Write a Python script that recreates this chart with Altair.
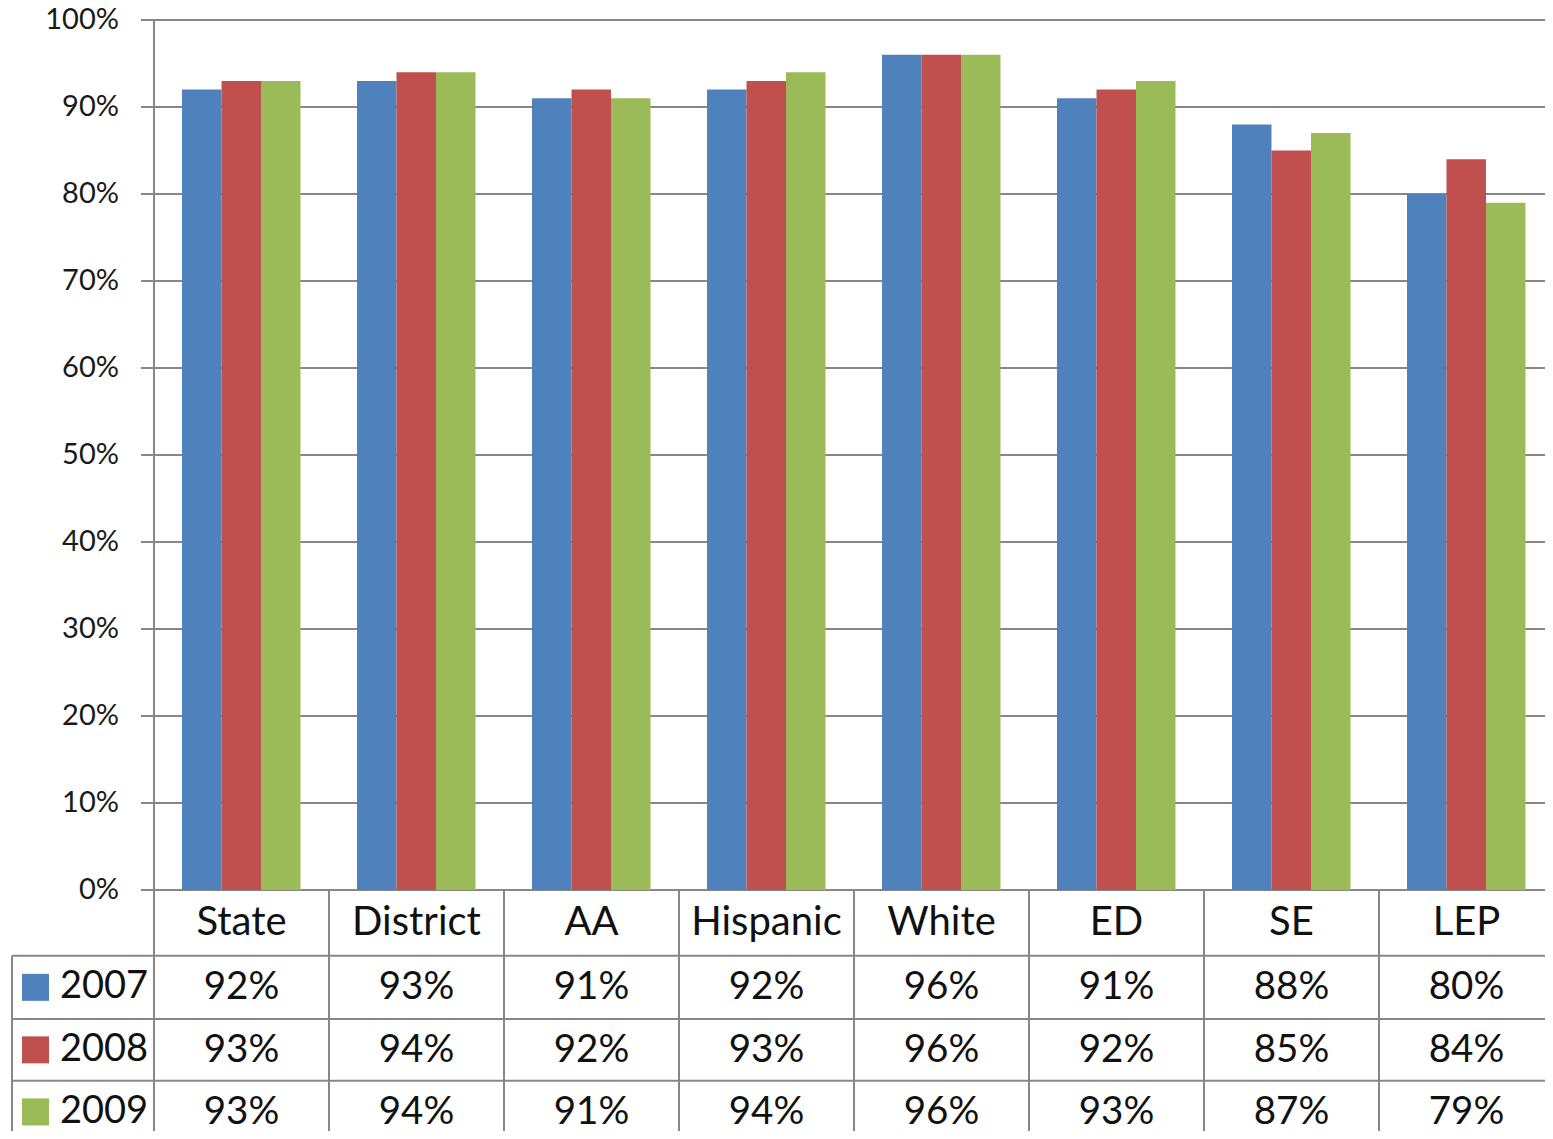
import altair as alt
import pandas as pd

# ---- data ----
categories = ["State", "District", "AA", "Hispanic", "White", "ED", "SE", "LEP"]
years = ["2007", "2008", "2009"]
v2007 = [92, 93, 91, 92, 96, 91, 88, 80]
v2008 = [93, 94, 92, 93, 96, 92, 85, 84]
v2009 = [93, 94, 91, 94, 96, 93, 87, 79]
series = [v2007, v2008, v2009]
y_ticks = [0, 10, 20, 30, 40, 50, 60, 70, 80, 90, 100]
colors = ["#4F81BD", "#C0504D", "#9BBB59"]

# ---- layout (pixels) ----
W, H = 1537, 1123
PXC = 175.0          # px per category column
PXY = 8.7            # px per percent
AX = 146             # chart-px x of the value axis
AY = 882             # chart-px y of 0%
GAP = 28.0           # px before first bar in a column
BARW = 39.5          # px per bar
ROW_LINES_PX = [65.7, 129.0, 190.7]   # below 0% baseline, px
ROW_H_PX = 62.5
LEFT_BORDER_PX = -142.0               # relative to axis
GRID = "#878787"
FONT = "Lato"

def px_x(p):
    return p / PXC

def px_y(p):
    return -p / PXY

xs = alt.Scale(domain=[-AX / PXC, (W - AX) / PXC], nice=False, zero=False)
ys = alt.Scale(domain=[-(H - AY) / PXY, AY / PXY], nice=False, zero=False)

# bars
bar_rows = []
for j, (yr, vals) in enumerate(zip(years, series)):
    for i, (c, v) in enumerate(zip(categories, vals)):
        x0 = i + px_x(GAP + BARW * j)
        bar_rows.append(dict(cat=c, year=yr, v=v, x=x0, x2=x0 + px_x(BARW), y=0))
bars_df = pd.DataFrame(bar_rows)

bars = alt.Chart(bars_df).mark_rect().encode(
    x=alt.X("x:Q", scale=xs, axis=None),
    x2="x2:Q",
    y=alt.Y("y:Q", scale=ys, axis=None),
    y2="v:Q",
    color=alt.Color("year:N", scale=alt.Scale(domain=years, range=colors), legend=None),
)

# lines: gridlines, ticks, axis, table
right = (W - AX) / PXC + 0.1
bottom = -(H - AY) / PXY - 1
lines = []
for t in y_ticks:
    lines.append(dict(x=px_x(-13), x2=right, y=t, y2=t))
lines.append(dict(x=0, x2=0, y=100, y2=bottom))
for i in range(1, 9):
    lines.append(dict(x=i, x2=i, y=0, y2=bottom))
for rl in ROW_LINES_PX:
    lines.append(dict(x=px_x(LEFT_BORDER_PX), x2=right, y=px_y(rl), y2=px_y(rl)))
lines.append(dict(x=px_x(LEFT_BORDER_PX), x2=px_x(LEFT_BORDER_PX),
                  y=px_y(ROW_LINES_PX[0]), y2=bottom))
lines_df = pd.DataFrame(lines)

rules = alt.Chart(lines_df).mark_rule(color=GRID, strokeWidth=2).encode(
    x=alt.X("x:Q", scale=xs, axis=None),
    x2="x2:Q",
    y=alt.Y("y:Q", scale=ys, axis=None),
    y2="y2:Q",
)

# y-axis labels
ylab_df = pd.DataFrame(dict(t=y_ticks, lab=[f"{t}%" for t in y_ticks], x=[px_x(-35)] * len(y_ticks)))
ylabels = alt.Chart(ylab_df).mark_text(
    align="right", baseline="middle", font=FONT, fontSize=29, color="#1a1a1a"
).encode(
    x=alt.X("x:Q", scale=xs, axis=None),
    y=alt.Y("t:Q", scale=ys, axis=None),
    text="lab:N",
)

# table header
hdr_y = px_y(ROW_LINES_PX[0] / 2)
hdr_df = pd.DataFrame(dict(cat=categories, x=[i + 0.5 for i in range(8)], y=[hdr_y] * 8))
header = alt.Chart(hdr_df).mark_text(
    align="center", baseline="middle", font=FONT, fontSize=40, color="#111111"
).encode(
    x=alt.X("x:Q", scale=xs, axis=None),
    y=alt.Y("y:Q", scale=ys, axis=None),
    text="cat:N",
)

# table values
row_tops = [ROW_LINES_PX[0], ROW_LINES_PX[1], ROW_LINES_PX[2]]
row_bots = [ROW_LINES_PX[1], ROW_LINES_PX[2], ROW_LINES_PX[2] + ROW_H_PX]
cell_rows = []
for j, (yr, vals) in enumerate(zip(years, series)):
    yc = px_y((row_tops[j] + row_bots[j]) / 2)
    for i, (c, v) in enumerate(zip(categories, vals)):
        cell_rows.append(dict(x=i + 0.5, y=yc, lab=f"{v}%"))
cells_df = pd.DataFrame(cell_rows)
cells = alt.Chart(cells_df).mark_text(
    align="center", baseline="middle", font=FONT, fontSize=38.5, color="#111111"
).encode(
    x=alt.X("x:Q", scale=xs, axis=None),
    y=alt.Y("y:Q", scale=ys, axis=None),
    text="lab:N",
)

# legend column
leg_rows = []
for j, yr in enumerate(years):
    yc = px_y((row_tops[j] + row_bots[j]) / 2)
    leg_rows.append(dict(year=yr, y=yc, xs=px_x(-118.5), xt=px_x(-94)))
leg_df = pd.DataFrame(leg_rows)
leg_sw = alt.Chart(leg_df).mark_square(size=27 * 27, opacity=1).encode(
    x=alt.X("xs:Q", scale=xs, axis=None),
    y=alt.Y("y:Q", scale=ys, axis=None),
    color=alt.Color("year:N", scale=alt.Scale(domain=years, range=colors), legend=None),
)
leg_tx = alt.Chart(leg_df).mark_text(
    align="left", baseline="middle", font=FONT, fontSize=38, color="#111111"
).encode(
    x=alt.X("xt:Q", scale=xs, axis=None),
    y=alt.Y("y:Q", scale=ys, axis=None),
    text="year:N",
)

chart = alt.layer(rules, bars, ylabels, header, cells, leg_sw, leg_tx).properties(
    width=W, height=H, padding=0, autosize=alt.AutoSizeParams(type="none")
).configure_view(stroke=None)

chart.save("out.html", embed_options={"renderer": "svg", "actions": False})
